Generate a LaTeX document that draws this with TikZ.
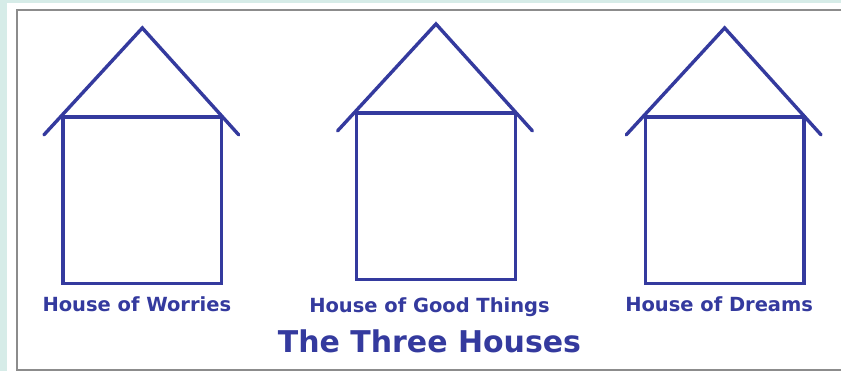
\documentclass[tikz,border=0pt]{standalone}
\usepackage{fontspec}
\setmainfont{DejaVu Sans}
\definecolor{houseblue}{RGB}{52,58,158}
\definecolor{pageteal}{RGB}{214,236,232}
\definecolor{framegray}{RGB}{140,140,140}
\begin{document}
\begin{tikzpicture}[x=1pt, y=-1pt]
  \tikzset{
  house_pic/.pic={
    % walls
    \draw[houseblue, line width=3.4pt] (0,0) rectangle (159,167);

    % roof
    \draw[houseblue, line width=3.4pt, line cap=round]
      (-19,18) -- (79.5,-89) -- (176,18);

    % characteristic coordinates of house
    \coordinate (-tl) at (0, 0);
    \coordinate (-bottom) at (79.5, 167);
  },
  house_txt/.style={text=houseblue, font=\bfseries\fontsize{19.5}{22}\selectfont, anchor=base},
  title_txt/.style={text=houseblue, font=\bfseries\fontsize{30}{36}\selectfont, anchor=base}
}

  % page
  \fill[pageteal] (0,0) rectangle (842,371);
  \fill[white] (7,3) rectangle (842,371);
  \draw[framegray, line width=2pt] (842,10) -- (17,10) -- (17,370) -- (842,370);
  \useasboundingbox (0,0) rectangle (842,371);

  % houses
  \pic (h_worries) at (63,117) {house_pic};
  \pic (h_good) at (357,113) {house_pic};
  \pic (h_dreams) at (646,117) {house_pic};

  % labels
  \node[house_txt] (l_worries) at (137,312) {House of Worries};
  \node[house_txt] (l_good) at (430,313) {House of Good Things};
  \node[house_txt] (l_dreams) at (720,312) {House of Dreams};

  % title
  \node[title_txt] (title) at (430,353) {The Three Houses};
\end{tikzpicture}
\end{document}
